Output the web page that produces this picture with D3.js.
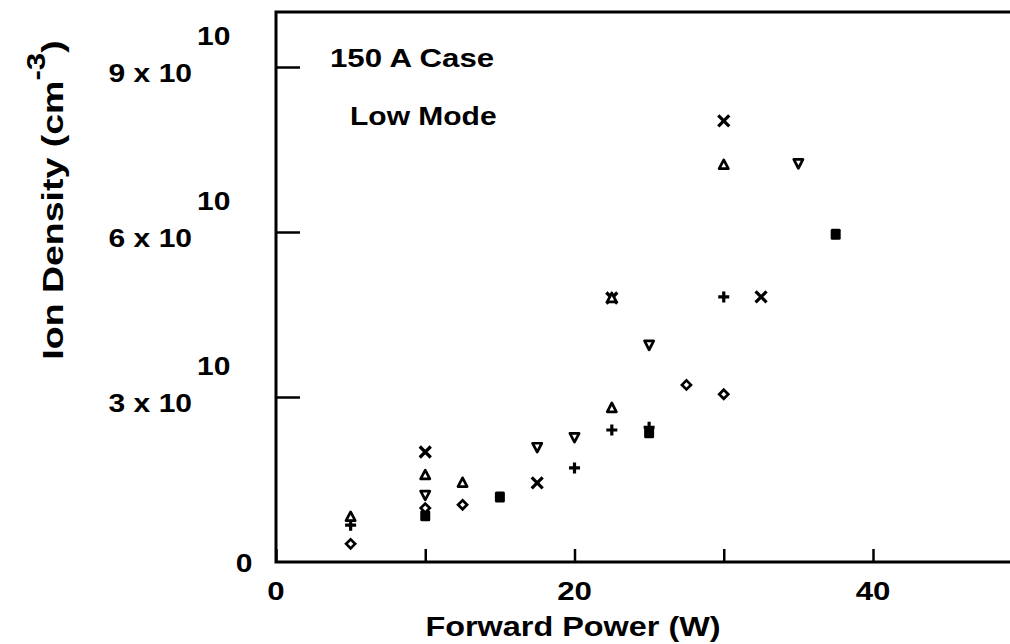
<!DOCTYPE html>
<html><head><meta charset="utf-8">
<script src="https://cdn.jsdelivr.net/npm/d3@7"></script>
<style>
body{margin:0;background:#fff;}
text{font-family:"Liberation Sans",Arial,Helvetica,sans-serif;font-weight:bold;fill:#000;}
</style></head>
<body><svg id="c" width="1010" height="644"></svg>
<script>
// Forward power (W) and ion density (units of 1e10 cm^-3), one array per symbol
const crossX = [10, 17.5, 22.5, 30, 32.5];
const crossY = [2.0, 1.44, 4.8, 8.02, 4.82];
const triUpX = [5, 10, 12.5, 22.5, 22.5, 30];
const triUpY = [0.82, 1.58, 1.44, 2.8, 4.8, 7.22];
const triDownX = [10, 17.5, 20, 25, 35];
const triDownY = [1.22, 2.09, 2.27, 3.95, 7.25];
const squareX = [10, 15, 25, 37.5];
const squareY = [0.84, 1.18, 2.35, 5.96];
const diamondX = [5, 10, 12.5, 27.5, 30];
const diamondY = [0.33, 0.98, 1.04, 3.22, 3.05];
const plusX = [5, 20, 22.5, 25, 30];
const plusY = [0.67, 1.71, 2.4, 2.45, 4.82];

const xTicks = [0, 10, 20, 30, 40];
const xTickLabels = ["0", "", "20", "", "40"];
const yTicks = [3, 6, 9];
const yTickLabels = ["3 x 10", "6 x 10", "9 x 10"];
const yTickExp = "10";
const title1 = "150 A Case";
const title2 = "Low Mode";

const svg = d3.select("#c");
const x = d3.scaleLinear().domain([0, 40]).range([276, 873]);
const y = d3.scaleLinear().domain([0, 10]).range([562, 12]);
const xEnd = 1010;
const SX = 1.2; // horizontal stretch of the wide bold typeface

function label(px, py, txt, size, anchor){
  return svg.append("text")
    .attr("transform", `translate(${px},${py}) scale(${SX},1)`)
    .attr("text-anchor", anchor || "start")
    .style("font-size", size + "px").text(txt);
}

// frame: left, top, bottom
svg.append("path").attr("d", `M${xEnd},${y(10)}H${x(0)}V${y(0)}H${xEnd}`)
  .attr("fill","none").attr("stroke","#000").attr("stroke-width",3);

// x axis ticks (inward)
const gx = svg.append("g").attr("transform",`translate(0,${y(0)})`)
  .call(d3.axisBottom(x).tickValues(xTicks).tickSize(-13).tickFormat(""));
gx.select(".domain").remove();
gx.selectAll(".tick line").attr("stroke","#000").attr("stroke-width",2.5);
xTicks.forEach((v,i)=>{ if (xTickLabels[i]) label(x(v), 600, xTickLabels[i], 26, "middle"); });

// y axis ticks (inward)
const gy = svg.append("g").attr("transform",`translate(${x(0)},0)`)
  .call(d3.axisLeft(y).tickValues(yTicks).tickSize(-24).tickFormat(""));
gy.select(".domain").remove();
gy.selectAll(".tick line").attr("stroke","#000").attr("stroke-width",2.5);
yTicks.forEach((v,i)=>{
  label(192, y(v)+15, yTickLabels[i], 25, "end");
  label(197, y(v)-22, yTickExp, 25, "start");
});
label(244, y(0)+10, "0", 25, "middle");

// axis titles
label(573, 636, "Forward Power (W)", 27, "middle");
const yt = svg.append("text").attr("transform",`translate(63,200) rotate(-90) scale(1.25,1)`)
  .attr("text-anchor","middle").style("font-size","30px");
yt.append("tspan").text("Ion Density (cm");
yt.append("tspan").attr("dy",-18).style("font-size","25px").text("-3");
yt.append("tspan").attr("dy",18).text(")");

// annotations
label(330, 67, title1, 26);
label(350, 125, title2, 25);

// markers
const sw = 2.7;
function pts(xs, ys){ return xs.map((d,i)=>({x:d, y:ys[i]})); }
const g = svg.append("g");
g.selectAll(".cr").data(pts(crossX,crossY)).enter().append("path")
  .attr("transform",d=>`translate(${x(d.x)},${y(d.y)})`)
  .attr("d","M-5.5,-5.5L5.5,5.5M-5.5,5.5L5.5,-5.5")
  .attr("stroke","#000").attr("stroke-width",3.2).attr("fill","none");
g.selectAll(".tu").data(pts(triUpX,triUpY)).enter().append("path")
  .attr("transform",d=>`translate(${x(d.x)},${y(d.y)})`)
  .attr("d","M0,-5L4.6,3.8L-4.6,3.8Z")
  .attr("stroke","#000").attr("stroke-width",sw).attr("fill","#fff").attr("stroke-linejoin","round");
g.selectAll(".td").data(pts(triDownX,triDownY)).enter().append("path")
  .attr("transform",d=>`translate(${x(d.x)},${y(d.y)})`)
  .attr("d","M0,5L4.6,-3.8L-4.6,-3.8Z")
  .attr("stroke","#000").attr("stroke-width",sw).attr("fill","#fff").attr("stroke-linejoin","round");
g.selectAll(".sq").data(pts(squareX,squareY)).enter().append("rect")
  .attr("x",d=>x(d.x)-5).attr("y",d=>y(d.y)-5.5).attr("width",10).attr("height",11)
  .attr("rx",1.5).attr("fill","#000");
g.selectAll(".dm").data(pts(diamondX,diamondY)).enter().append("path")
  .attr("transform",d=>`translate(${x(d.x)},${y(d.y)})`)
  .attr("d","M0,-4.5L4.5,0L0,4.5L-4.5,0Z")
  .attr("stroke","#000").attr("stroke-width",sw).attr("fill","#fff");
g.selectAll(".pl").data(pts(plusX,plusY)).enter().append("path")
  .attr("transform",d=>`translate(${x(d.x)},${y(d.y)})`)
  .attr("d","M-5.5,0H5.5M0,-5.5V5.5")
  .attr("stroke","#000").attr("stroke-width",3.2).attr("fill","none");
</script></body></html>
